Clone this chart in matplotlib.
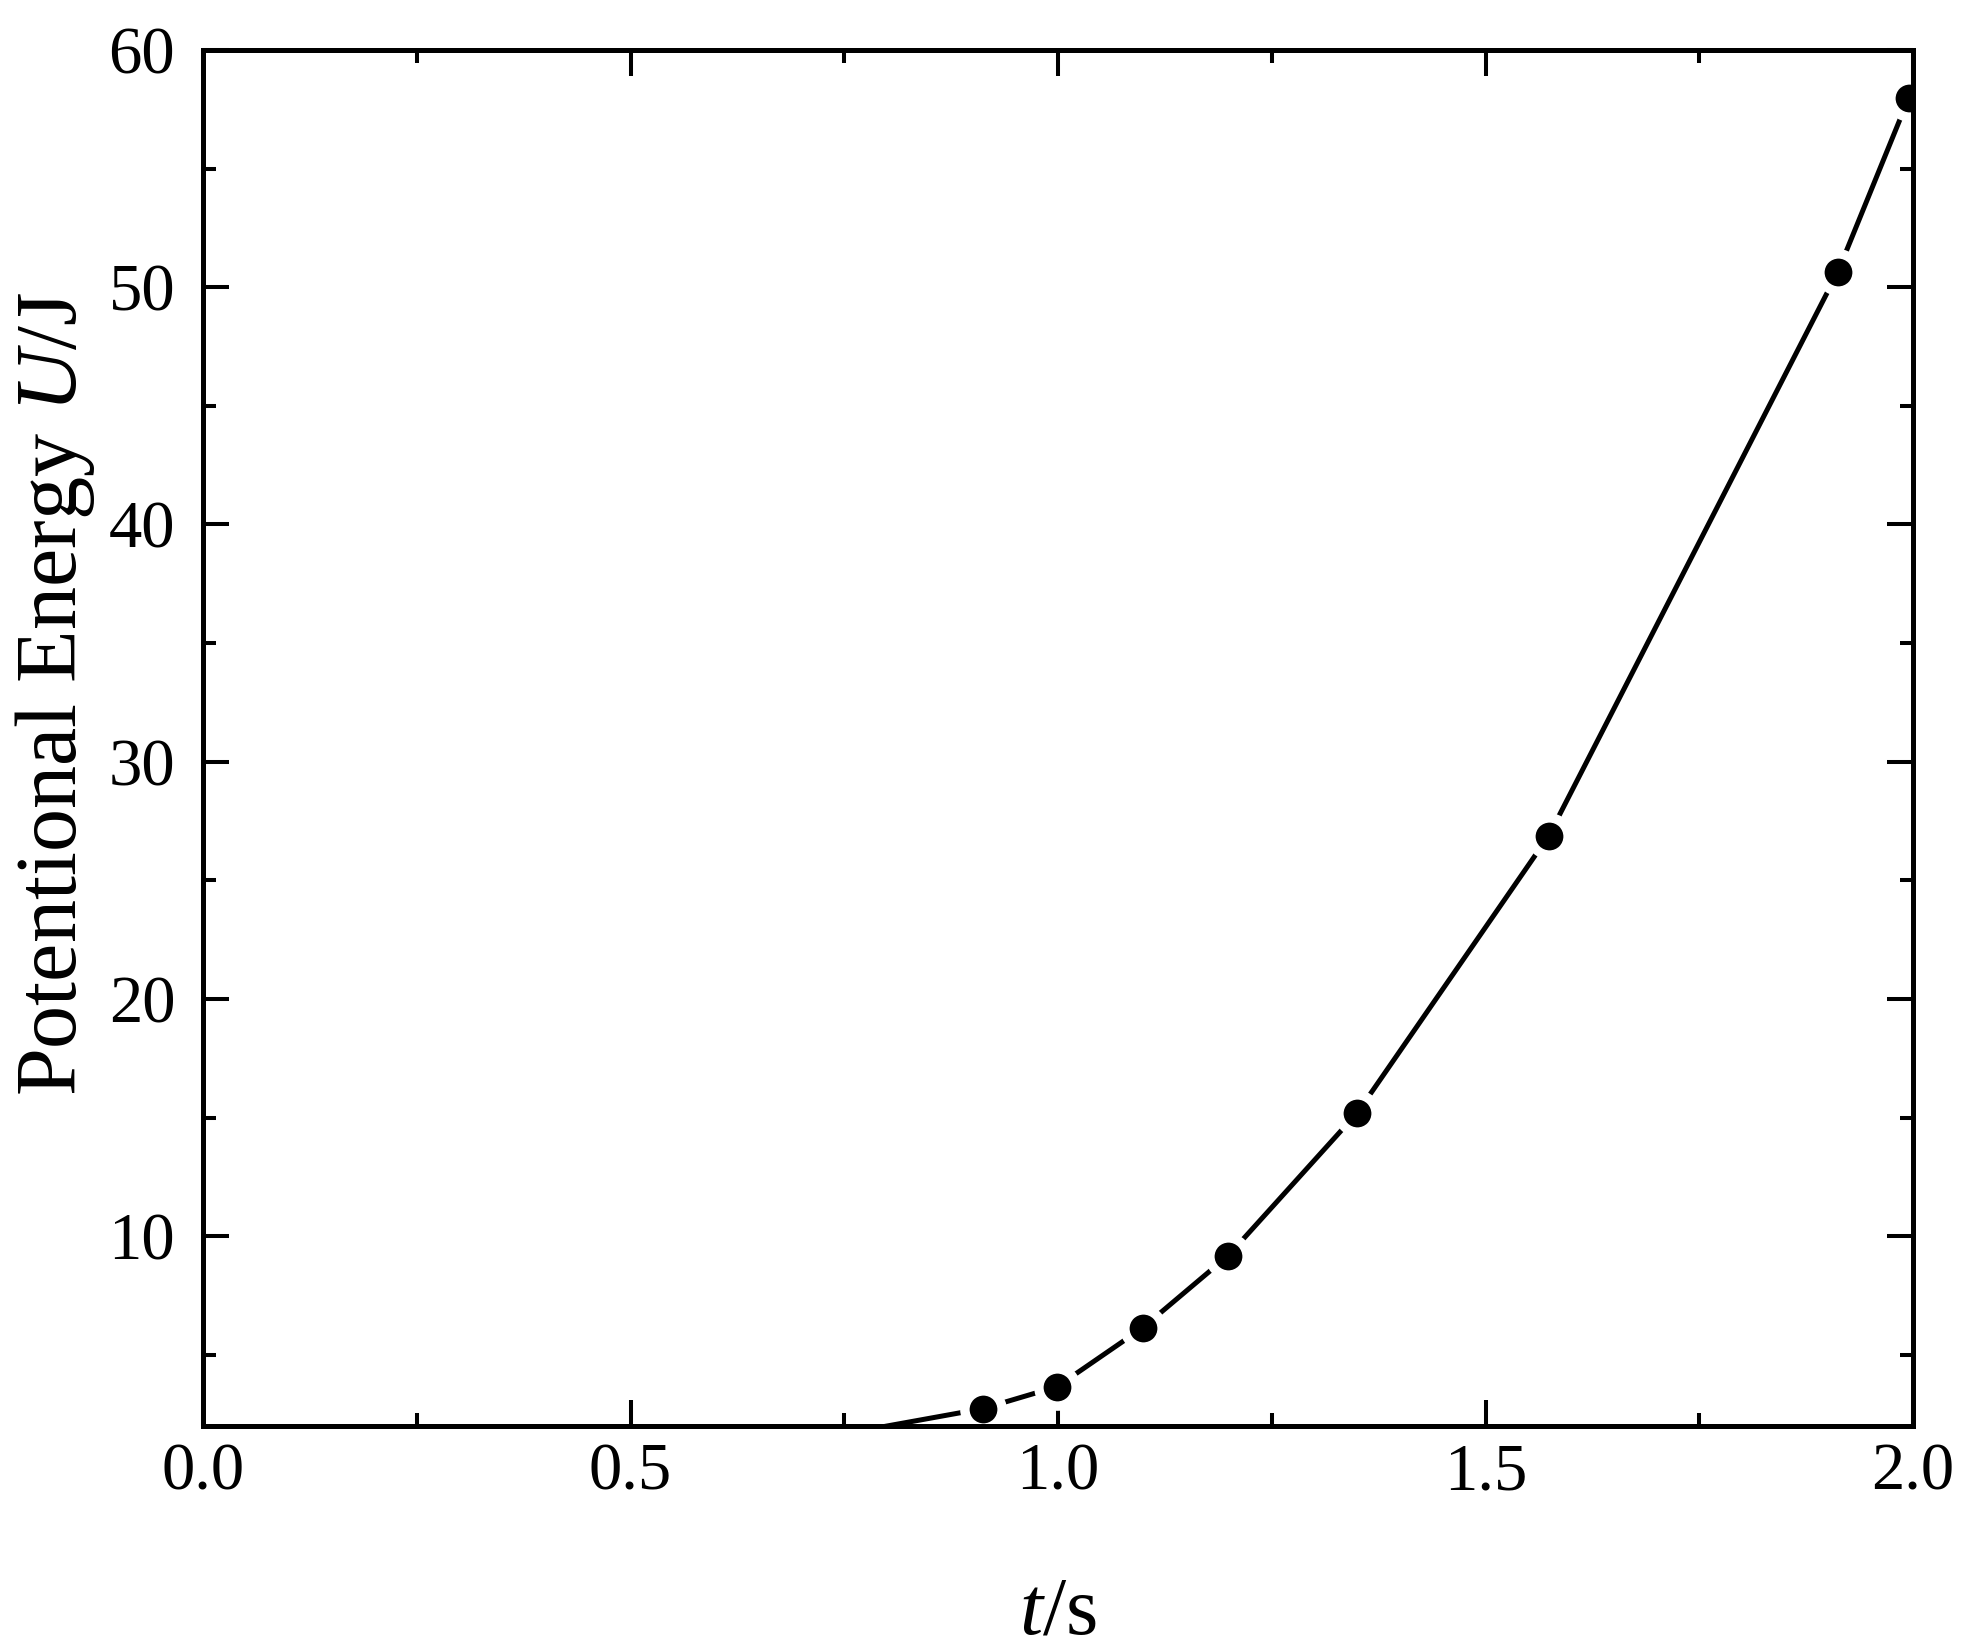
"""
Potential energy U against time t.
"""

import matplotlib
matplotlib.use("Agg")
import matplotlib.pyplot as plt
from matplotlib.ticker import MultipleLocator

# data (first point lies below the visible range)
t_values = [0.70, 0.912, 0.999, 1.099, 1.199, 1.350, 1.574, 1.912, 1.995]
u_values = [1.35, 2.73, 3.66, 6.14, 9.18, 15.2, 26.88, 50.64, 57.98]

x_ticks = [0.0, 0.5, 1.0, 1.5, 2.0]
y_ticks = [10, 20, 30, 40, 50, 60]


def main():
    plt.rcParams["font.family"] = ["Liberation Serif", "DejaVu Serif"]
    plt.rcParams["mathtext.fontset"] = "custom"
    plt.rcParams["mathtext.it"] = "Liberation Serif:italic"
    plt.rcParams["mathtext.rm"] = "Liberation Serif"

    fig = plt.figure(figsize=(9.865, 8.24), dpi=200)
    ax = fig.add_axes([0.1029, 0.1347, 0.8667, 0.835])

    ax.plot(t_values, u_values, color="black", linewidth=1.8,
            marker="o", markersize=13.4, markerfacecolor="black",
            markeredgecolor="white", markeredgewidth=3.4)

    ax.set_xlim(0.0, 2.0)
    ax.set_ylim(2.0, 60)
    ax.set_xticks(x_ticks)
    ax.set_yticks(y_ticks)
    ax.xaxis.set_minor_locator(MultipleLocator(0.25))
    ax.yaxis.set_minor_locator(MultipleLocator(5))

    ax.tick_params(which="both", direction="in", top=True, right=True,
                   width=1.45, labelsize=24)
    ax.tick_params(which="major", length=9.4)
    ax.tick_params(which="minor", length=4.7)
    ax.tick_params(axis="x", pad=6)
    ax.tick_params(axis="y", pad=10)
    for spine in ax.spines.values():
        spine.set_linewidth(1.8)

    ax.set_xlabel("$t$/s", fontsize=30, labelpad=26)
    ax.set_ylabel("Potentional Energy $U$/J", fontsize=31)
    ax.yaxis.set_label_coords(-0.062, 0.532)

    fig.savefig("out.png", dpi=200)


if __name__ == "__main__":
    main()
